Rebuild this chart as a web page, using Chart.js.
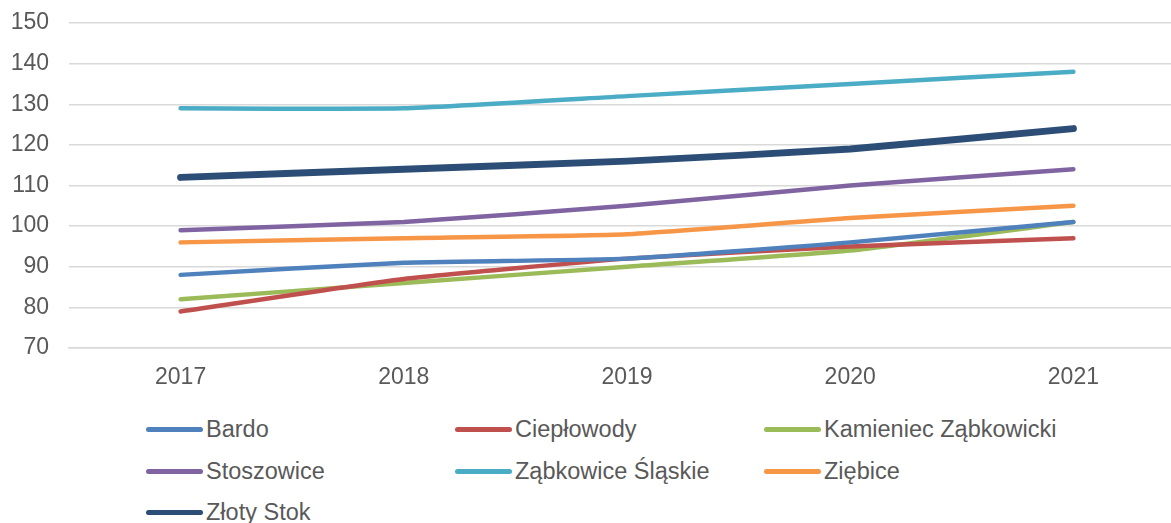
<!DOCTYPE html>
<html>
<head>
<meta charset="utf-8">
<script src="https://cdn.jsdelivr.net/npm/chart.js@4/dist/chart.umd.min.js"></script>
<style>
  html, body { margin: 0; padding: 0; background: #fff; overflow: hidden; }
  body { width: 1171px; height: 523px; position: relative; font-family: "Liberation Sans", Arial, sans-serif; }
  #wrap { position: absolute; left: 0; top: 0; width: 1186px; height: 395px; }
  #legend { position: absolute; left: 146px; top: 416px; width: 960px; }
  .item { position: absolute; display: flex; align-items: center; font-size: 23.5px; color: #595959; white-space: nowrap; }
  .swatch { width: 57px; height: 5px; border-radius: 3px; margin-right: 3px; }
</style>
</head>
<body>
<div id="wrap"><canvas id="chart"></canvas></div>
<div id="legend"></div>
<script>
// categories and series
const years = ['2017', '2018', '2019', '2020', '2021'];
const bardo = [88, 91, 92, 96, 101];
const cieplowody = [79, 87, 92, 95, 97];
const kamieniec = [82, 86, 90, 94, 101];
const stoszowice = [99, 101, 105, 110, 114];
const zabkowice = [129, 129, 132, 135, 138];
const ziebice = [96, 97, 98, 102, 105];
const zlotyStok = [112, 114, 116, 119, 124];
const yTicks = [70, 80, 90, 100, 110, 120, 130, 140, 150];

const series = [
  { label: 'Bardo', data: bardo, color: '#4F81BD', width: 4.5 },
  { label: 'Ciepłowody', data: cieplowody, color: '#C0504D', width: 4.5 },
  { label: 'Kamieniec Ząbkowicki', data: kamieniec, color: '#9BBB59', width: 4.5 },
  { label: 'Stoszowice', data: stoszowice, color: '#8064A2', width: 4.5 },
  { label: 'Ząbkowice Śląskie', data: zabkowice, color: '#4BACC6', width: 4.5 },
  { label: 'Ziębice', data: ziebice, color: '#F79646', width: 4.5 },
  { label: 'Złoty Stok', data: zlotyStok, color: '#2C4D75', width: 7 }
];

// html legend, 3 columns
const legend = document.getElementById('legend');
series.forEach((s, i) => {
  const el = document.createElement('div');
  el.className = 'item';
  el.style.left = (i % 3) * 309 + 'px';
  el.style.top = Math.floor(i / 3) * 41.5 + 'px';
  el.innerHTML = '<span class="swatch" style="background:' + s.color + '"></span>' + s.label;
  legend.appendChild(el);
});

const ctx = document.getElementById('chart').getContext('2d');
new Chart(ctx, {
  type: 'line',
  data: {
    labels: years,
    datasets: series.map(s => ({
      label: s.label,
      data: s.data,
      borderColor: s.color,
      backgroundColor: s.color,
      borderWidth: s.width,
      borderCapStyle: 'round',
      borderJoinStyle: 'round',
      pointRadius: 0,
      tension: 0.15,
      fill: false
    }))
  },
  options: {
    responsive: true,
    maintainAspectRatio: false,
    animation: false,
    layout: { padding: { top: 23, right: 1, left: 0, bottom: 0 } },
    plugins: { legend: { display: false }, tooltip: { enabled: false } },
    scales: {
      x: {
        offset: true,
        grid: { display: false, drawTicks: false },
        border: { display: true, color: '#D9D9D9', width: 1.5 },
        ticks: { color: '#595959', font: { family: 'Liberation Sans', size: 23 }, padding: 16 },
        afterFit: a => { a.height = 47; a.paddingLeft = 0; a.paddingRight = 0; }
      },
      y: {
        min: 70,
        max: 150,
        afterBuildTicks: a => { a.ticks = yTicks.map(v => ({ value: v })); },
        grid: { color: '#D9D9D9', lineWidth: 1.5, drawTicks: false },
        border: { display: false },
        ticks: { color: '#595959', font: { family: 'Liberation Sans', size: 23 }, padding: 20 },
        afterFit: a => { a.width = 69; a.paddingTop = 0; a.paddingBottom = 0; }
      }
    }
  }
});
</script>
</body>
</html>
